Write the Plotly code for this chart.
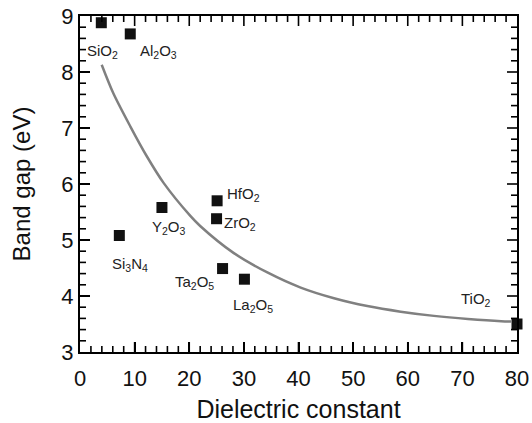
import plotly.graph_objects as go

# Material data (dielectric constant, band gap in eV)
materials = ["SiO<sub>2</sub>", "Al<sub>2</sub>O<sub>3</sub>", "Si<sub>3</sub>N<sub>4</sub>",
             "Y<sub>2</sub>O<sub>3</sub>", "HfO<sub>2</sub>", "ZrO<sub>2</sub>",
             "Ta<sub>2</sub>O<sub>5</sub>", "La<sub>2</sub>O<sub>5</sub>", "TiO<sub>2</sub>"]
dielectric = [3.9, 9.2, 7.2, 15.0, 25.1, 25.0, 26.1, 30.1, 80.0]
band_gap = [8.88, 8.68, 5.08, 5.58, 5.70, 5.38, 4.49, 4.30, 3.50]

# Trend curve
curve_k = [3.97, 6.1, 9.2, 12.2, 15.3, 20.2, 22.0, 28.1, 34.3, 40.4, 46.5, 52.6, 58.7, 64.8, 71.0, 77.1, 78.9]
curve_eg = [8.13, 7.62, 7.03, 6.50, 6.02, 5.43, 5.25, 4.77, 4.42, 4.15, 3.96, 3.82, 3.72, 3.645, 3.59, 3.55, 3.545]

# Axis ranges and tick positions
x_range = [0, 80]
y_range = [3, 9]
x_major = [0, 10, 20, 30, 40, 50, 60, 70, 80]
y_major = [3, 4, 5, 6, 7, 8, 9]
x_minor = [v for v in range(2, 80, 2) if v % 10 != 0]
y_minor = [round(3 + 0.2 * i, 1) for i in range(1, 30) if i % 5 != 0]

# Label pixel offsets from each point (xshift, yshift)
label_offsets = [(-16, -29), (8, -18), (-9, -29), (-12, -20), (8, 6), (5, -5),
                 (-50, -14), (-13, -26), (-58, 25)]

FONT = "Liberation Sans, Arial, sans-serif"
W, H = 532, 423
M = dict(l=80, r=15, t=16, b=71)
MAJOR_LEN, MINOR_LEN, TICK_W = 10, 6, 1.6

# pixel -> data conversion for tick lengths
px_per_x = (W - M["l"] - M["r"]) / (x_range[1] - x_range[0])
px_per_y = (H - M["t"] - M["b"]) / (y_range[1] - y_range[0])

fig = go.Figure()
fig.add_trace(go.Scatter(x=curve_k, y=curve_eg, mode="lines",
                         line=dict(color="#808080", width=2.5, shape="spline", smoothing=0.8),
                         hoverinfo="skip", showlegend=False))
fig.add_trace(go.Scatter(x=dielectric, y=band_gap, mode="markers",
                         marker=dict(symbol="square", size=11, color="#111111"),
                         cliponaxis=False, showlegend=False))

# Inside tick marks on all four sides
tx, ty = [], []
for vals, length in ((x_major, MAJOR_LEN), (x_minor, MINOR_LEN)):
    dy = length / px_per_y
    for v in vals:
        if v in x_range:
            continue
        tx += [v, v, None, v, v, None]
        ty += [y_range[0], y_range[0] + dy, None, y_range[1], y_range[1] - dy, None]
for vals, length in ((y_major, MAJOR_LEN), (y_minor, MINOR_LEN)):
    dx = length / px_per_x
    for v in vals:
        if v in y_range:
            continue
        tx += [x_range[0], x_range[0] + dx, None, x_range[1], x_range[1] - dx, None]
        ty += [v, v, None, v, v, None]
fig.add_trace(go.Scatter(x=tx, y=ty, mode="lines", line=dict(color="black", width=TICK_W),
                         hoverinfo="skip", showlegend=False, connectgaps=False))

for name, xv, yv, (dx, dy) in zip(materials, dielectric, band_gap, label_offsets):
    fig.add_annotation(x=xv, y=yv, text=name, showarrow=False,
                       xanchor="left", yanchor="middle", xshift=dx, yshift=dy,
                       font=dict(family=FONT, size=15, color="#222222"))

axis_common = dict(showline=True, linecolor="black", linewidth=2, mirror=True,
                   ticks="inside", ticklen=MAJOR_LEN, tickwidth=TICK_W, tickcolor="black",
                   showgrid=False, zeroline=False, automargin=False,
                   tickfont=dict(family=FONT, size=22, color="#111111"))

fig.update_xaxes(range=x_range, tickvals=x_major, ticklabelstandoff=6,
                 title=dict(text="Dielectric constant", font=dict(family=FONT, size=25, color="#111111"), standoff=12),
                 **axis_common)
fig.update_yaxes(range=y_range, tickvals=y_major,
                 title=dict(text="Band gap (eV)", font=dict(family=FONT, size=24, color="#111111"), standoff=24),
                 **axis_common)

fig.update_layout(width=W, height=H, margin=M,
                  paper_bgcolor="white", plot_bgcolor="white", showlegend=False)

fig.write_html("out.html", config={"displayModeBar": False},
               post_script="document.body.style.margin='0';document.body.style.overflow='hidden';")
